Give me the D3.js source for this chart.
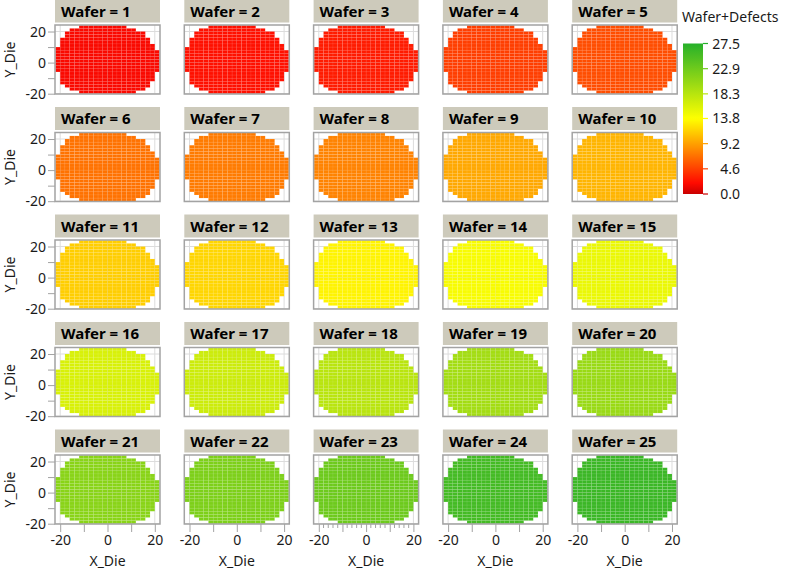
<!DOCTYPE html>
<html>
<head>
<meta charset="utf-8">
<script src="https://cdn.jsdelivr.net/npm/d3@7"></script>
<style>
  body { margin: 0; background: #fff; }
  text { font-family: "Noto Sans", "Open Sans", sans-serif; fill: #1a1a1a; }
</style>
</head>
<body>
<svg id="chart" width="792" height="573"></svg>
<script>
// mean Wafer+Defects value per wafer (wafer 1..25)
const waferValues = [1.8, 2.3, 2.8, 4.5, 5.2, 7.0, 7.4, 7.8, 9.6, 10.2,
                     11.4, 11.8, 13.2, 14.2, 15.0, 16.2, 17.0, 18.2, 19.6, 20.2,
                     21.2, 22.0, 23.0, 25.6, 26.2];

// die map: for each Y_Die row, first and last X_Die (die pitch 2)
const dieRowY  = [23, 21, 19, 17, 15, 13, 11, 9, 7, 5, 3, 1, -1, -3, -5, -7, -9, -11, -13, -15, -17, -19];
const dieRowX0 = [-11, -15, -17, -17, -19, -19, -19, -21, -21, -21, -21, -21, -21, -21, -21, -19, -19, -19, -19, -17, -15, -11];
const dieRowX1 = [7, 11, 15, 15, 17, 17, 19, 19, 21, 21, 21, 21, 21, 21, 21, 19, 19, 19, 17, 17, 15, 11];

const majorTicks = [-20, -10, 0, 10, 20];
const tickLabels = [-20, 0, 20];
const legendTicks = [0.0, 4.6, 9.2, 13.8, 18.3, 22.9, 27.5];
const colorStops = [0, 2, 13.75, 27.5];
const colorRange = ["#c80000", "#ff0a00", "#ffff00", "#26b02a"];

const svg = d3.select("#chart");
const color = d3.scaleLinear().domain(colorStops).range(colorRange).clamp(true);

const dies = [];
dieRowY.forEach((y, i) => {
    for (let x = dieRowX0[i]; x <= dieRowX1[i]; x += 2) dies.push({ x, y });
});

const nCols = 5;
const panelW = 105, panelH = 69;
const colStep = 129.3, rowStep = 107.5;

waferValues.forEach((v, idx) => {
    const col = idx % nCols, row = Math.floor(idx / nCols);
    const left = 55 + col * colStep;
    const top = 25 + row * rowStep;

    const x = d3.scaleLinear().domain([-22.2, 22.2]).range([left, left + panelW]);
    const y = d3.scaleLinear().domain([-20.2, 24.2]).range([top + panelH, top]);

    const g = svg.append("g").attr("class", "panel");

    // header strip
    g.append("rect")
        .attr("x", left).attr("y", top - 25.5)
        .attr("width", panelW).attr("height", 23)
        .attr("fill", "#cdcabb");
    g.append("text")
        .attr("x", left + 6).attr("y", top - 8.5)
        .attr("font-size", 15).attr("font-weight", "bold")
        .style("fill", "#000")
        .text(`Wafer = ${idx + 1}`);

    // grid lines
    g.selectAll("line.vgrid").data(tickLabels).join("line")
        .attr("x1", d => x(d)).attr("x2", d => x(d))
        .attr("y1", top).attr("y2", top + panelH)
        .attr("stroke", "#dcdcdc").attr("stroke-width", 1);
    g.selectAll("line.hgrid").data(tickLabels).join("line")
        .attr("y1", d => y(d)).attr("y2", d => y(d))
        .attr("x1", left).attr("x2", left + panelW)
        .attr("stroke", "#dcdcdc").attr("stroke-width", 1);

    // die cells
    g.selectAll("rect.die").data(dies).join("rect")
        .attr("class", "die")
        .attr("x", d => x(d.x - 1))
        .attr("y", d => y(d.y + 1))
        .attr("width", x(2) - x(0))
        .attr("height", y(0) - y(2))
        .attr("fill", color(v))
        .attr("stroke", "#fff").attr("stroke-opacity", 0.12).attr("stroke-width", 0.5);

    // frame
    g.append("rect")
        .attr("x", left).attr("y", top)
        .attr("width", panelW).attr("height", panelH)
        .attr("fill", "none").attr("stroke", "#a3a3a3").attr("stroke-width", 1.5);

    // y axis on first column
    if (col === 0) {
        const yAxis = d3.axisLeft(y).tickValues(majorTicks).tickSize(7).tickPadding(2)
            .tickFormat(d => tickLabels.includes(d) ? d : "");
        const ga = svg.append("g").attr("transform", `translate(${left},0)`).call(yAxis);
        ga.select(".domain").remove();
        ga.selectAll(".tick line").attr("stroke", "#a3a3a3");
        ga.selectAll(".tick text").attr("font-size", 14).style("font-family", "Noto Sans, sans-serif")
            .style("fill", "#1a1a1a");
        svg.append("text")
            .attr("transform", `translate(15,${top + panelH / 2}) rotate(-90)`)
            .attr("text-anchor", "middle").attr("font-size", 14)
            .text("Y_Die");
    }

    // x axis on last row
    if (row === 4) {
        const xAxis = d3.axisBottom(x).tickValues(majorTicks).tickSize(8).tickPadding(3)
            .tickFormat(d => tickLabels.includes(d) ? d : "");
        const ga = svg.append("g").attr("transform", `translate(0,${top + panelH})`).call(xAxis);
        ga.select(".domain").remove();
        ga.selectAll(".tick line").attr("stroke", "#a3a3a3");
        ga.selectAll(".tick text").attr("font-size", 14).style("font-family", "Noto Sans, sans-serif")
            .style("fill", "#1a1a1a");
        if (idx === 22) {
            // wafer 23 shows extra minor ticks
            ga.selectAll("line.minor").data(d3.range(-20, 21, 2).filter(t => t % 10 !== 0)).join("line")
                .attr("class", "minor")
                .attr("x1", d => x(d)).attr("x2", d => x(d))
                .attr("y1", 0).attr("y2", 4)
                .attr("stroke", "#a3a3a3");
        }
        svg.append("text")
            .attr("x", left + panelW / 2).attr("y", 566)
            .attr("text-anchor", "middle").attr("font-size", 14)
            .text("X_Die");
    }
});

// legend
const legTop = 43.5, legBottom = 194, legX = 683, legW = 20;
const ly = d3.scaleLinear().domain([0, 27.5]).range([legBottom, legTop]);
const defs = svg.append("defs");
const grad = defs.append("linearGradient").attr("id", "legendGrad")
    .attr("x1", 0).attr("y1", 1).attr("x2", 0).attr("y2", 0);
d3.range(0, 27.51, 0.5).forEach(t => {
    grad.append("stop").attr("offset", t / 27.5).attr("stop-color", color(t));
});
svg.append("text")
    .attr("x", 682).attr("y", 22).attr("font-size", 14)
    .text("Wafer+Defects");
svg.append("rect")
    .attr("x", legX).attr("y", legTop)
    .attr("width", legW).attr("height", legBottom - legTop)
    .attr("fill", "url(#legendGrad)");
svg.selectAll("line.legtick").data(legendTicks).join("line")
    .attr("class", "legtick")
    .attr("x1", legX + legW).attr("x2", legX + legW + 5)
    .attr("y1", d => ly(d)).attr("y2", d => ly(d))
    .attr("stroke", d => color(d)).attr("stroke-width", 1.2);
svg.selectAll("text.leglabel").data(legendTicks).join("text")
    .attr("class", "leglabel")
    .attr("x", 740).attr("y", d => ly(d) + 5)
    .attr("text-anchor", "end").attr("font-size", 14)
    .text(d => d.toFixed(1));
</script>
</body>
</html>
